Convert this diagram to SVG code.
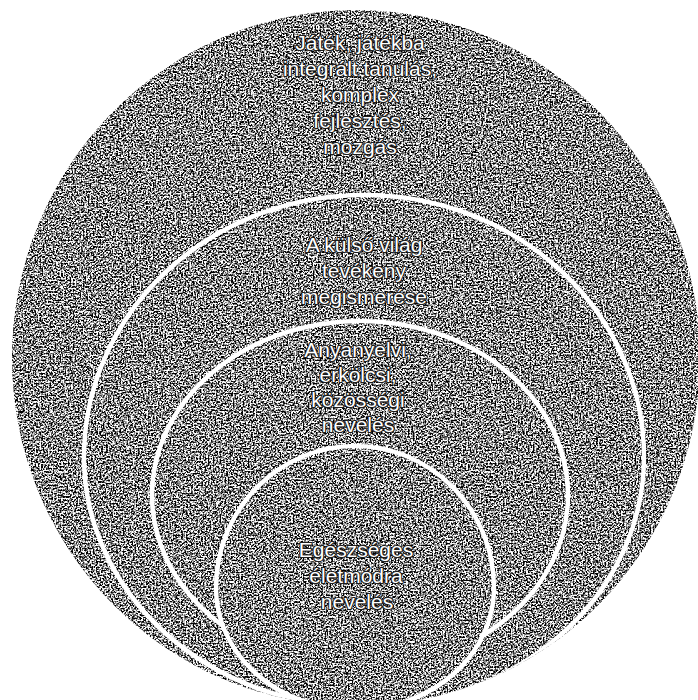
<svg xmlns="http://www.w3.org/2000/svg" width="698" height="700" viewBox="0 0 698 700">
<style>
  .ring{fill:none;stroke:#ffffff;stroke-width:4.5}
  .lbl{font-family:"Liberation Sans",Arial,sans-serif;font-size:21px;fill:#ffffff;stroke:#1c1c1c;stroke-width:2.2;paint-order:stroke;stroke-linejoin:round;text-anchor:middle}
</style>
<defs>
  <clipPath id="outerClip"><ellipse cx="356" cy="358" rx="344" ry="348"/></clipPath>
  <filter id="grain" filterUnits="userSpaceOnUse" x="0" y="0" width="698" height="700" color-interpolation-filters="sRGB">
    <feTurbulence type="fractalNoise" baseFrequency="0.6" numOctaves="2" seed="11"/>
    <feColorMatrix type="matrix" values="1 0 0 0 0  1 0 0 0 0  1 0 0 0 0  0 0 0 0 1"/>
    <feComponentTransfer>
      <feFuncR type="linear" slope="4" intercept="-1.47"/>
      <feFuncG type="linear" slope="4" intercept="-1.47"/>
      <feFuncB type="linear" slope="4" intercept="-1.47"/>
    </feComponentTransfer>
  </filter>
  <path id="ring4Shape" d="M216,588 A139,142 0 0 1 494,588 A139,122 0 0 1 216,588 Z"/>
  <mask id="inside4Hidden" maskUnits="userSpaceOnUse" x="0" y="0" width="698" height="700">
    <rect x="0" y="0" width="698" height="700" fill="#ffffff"/>
    <use href="#ring4Shape" fill="#000000"/>
  </mask>
</defs>
<rect x="0" y="0" width="698" height="700" fill="#ffffff"/>
<g clip-path="url(#outerClip)">
  <g id="node-outer">
    <rect x="0" y="0" width="698" height="700" fill="#777777" filter="url(#grain)"/>
  </g>
  <g id="node-ring2">
    <path class="ring" d="M84,457 A280,262 0 0 1 644,457 A280,250 0 0 1 84,457 Z"/>
  </g>
  <g id="node-ring3">
    <ellipse class="ring" cx="360" cy="495" rx="208" ry="174" mask="url(#inside4Hidden)"/>
  </g>
  <g id="node-ring4">
    <use href="#ring4Shape" class="ring"/>
  </g>
</g>
<g id="label-outer">
  <text class="lbl" x="360" y="50">Játék, játékba</text>
  <text class="lbl" x="360" y="76">integrált tanulás,</text>
  <text class="lbl" x="360" y="102">komplex</text>
  <text class="lbl" x="360" y="128">fejlesztés,</text>
  <text class="lbl" x="360" y="154">mozgás</text>
</g>
<g id="label-ring2">
  <text class="lbl" x="364" y="252">A külső világ</text>
  <text class="lbl" x="364" y="278">tevékeny</text>
  <text class="lbl" x="364" y="304">megismerése</text>
</g>
<g id="label-ring3">
  <text class="lbl" x="358" y="357">Anyanyelvi,</text>
  <text class="lbl" x="358" y="382">erkölcsi,</text>
  <text class="lbl" x="358" y="407">közösségi</text>
  <text class="lbl" x="358" y="432">nevelés</text>
</g>
<g id="label-ring4">
  <text class="lbl" x="356" y="557">Egészséges</text>
  <text class="lbl" x="356" y="583">életmódra</text>
  <text class="lbl" x="357" y="609">nevelés</text>
</g>
</svg>
